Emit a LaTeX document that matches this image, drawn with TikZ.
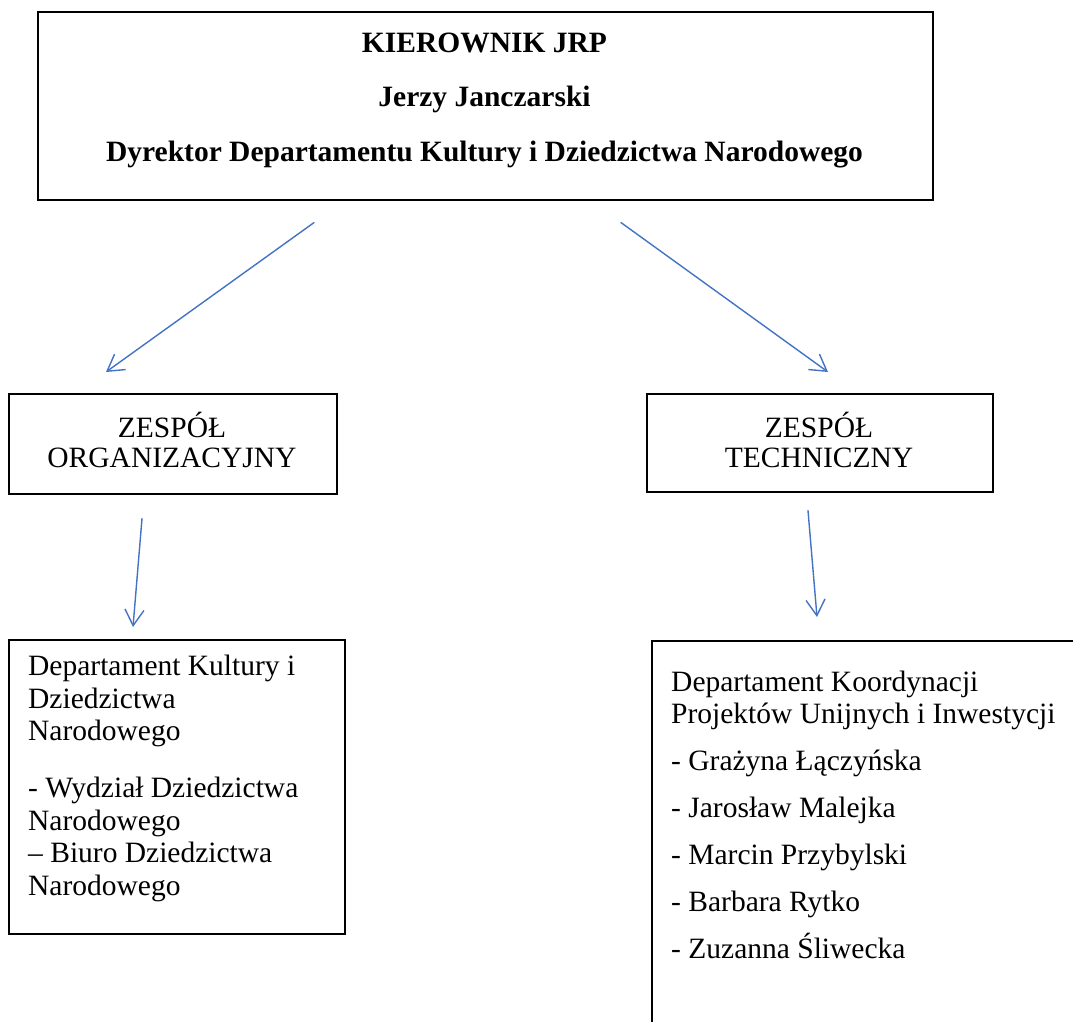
\documentclass[tikz,border=0pt]{standalone}
\usepackage{fontspec}
\setmainfont{Liberation Serif}
\usetikzlibrary{arrows.meta,calc}
\definecolor{arrowblue}{RGB}{68,114,196}
\begin{document}
\begin{tikzpicture}[x=1pt,y=-1pt,
  box/.style={draw=black,line width=1.6pt,inner sep=0pt,anchor=north west},
  txt/.style={inner sep=0pt,font=\fontsize{29.5}{32}\selectfont},
  btxt/.style={inner sep=0pt,font=\fontsize{29.5}{32}\selectfont\bfseries},
  conn/.style={draw=arrowblue,line width=1.4pt,line cap=round,line join=round,-{Straight Barb[length=16pt,width=19pt]}}]
\useasboundingbox (0,0) rectangle (1073,1022);
\fill[white] (0,0) rectangle (1073,1022);
\clip (0,0) rectangle (1073,1022);
% top box
\node[box,minimum width=895pt,minimum height=188pt] (top) at (37,11) {};
\node[btxt,anchor=base] (t1) at (484.5,53) {KIEROWNIK JRP};
\node[btxt,anchor=base] (t2) at (484.5,107) {Jerzy Janczarski};
\node[btxt,anchor=base] (t3) at (484.5,161) {Dyrektor Departamentu Kultury i Dziedzictwa Narodowego};
% middle boxes
\node[box,minimum width=328pt,minimum height=100pt] (zo) at (8,393) {};
\node[txt,anchor=base] (zo1) at (172,437) {ZESPÓŁ};
\node[txt,anchor=base] (zo2) at (172,467) {ORGANIZACYJNY};
\node[box,minimum width=346pt,minimum height=98pt] (zt) at (646,393) {};
\node[txt,anchor=base] (zt1) at (819,437) {ZESPÓŁ};
\node[txt,anchor=base] (zt2) at (819,467) {TECHNICZNY};
% bottom left box
\node[box,minimum width=336pt,minimum height=294pt] (dl) at (8,639) {};
\node[txt,anchor=base west] (l1) at (28,675) {Departament Kultury i};
\node[txt,anchor=base west] (l2) at (28,708) {Dziedzictwa};
\node[txt,anchor=base west] (l3) at (28,740) {Narodowego};
\node[txt,anchor=base west] (l4) at (28,797) {- Wydział Dziedzictwa};
\node[txt,anchor=base west] (l5) at (28,830) {Narodowego};
\node[txt,anchor=base west] (l6) at (28,862) {– Biuro Dziedzictwa};
\node[txt,anchor=base west] (l7) at (28,895) {Narodowego};
% bottom right box (cut by the page edge)
\node[box,minimum width=460pt,minimum height=420pt] (dr) at (651,640) {};
\node[txt,anchor=base west] (r1) at (671,691) {Departament Koordynacji};
\node[txt,anchor=base west] (r2) at (671,723) {Projektów Unijnych i Inwestycji};
\node[txt,anchor=base west] (r3) at (671,770) {- Grażyna Łączyńska};
\node[txt,anchor=base west] (r4) at (671,817) {- Jarosław Malejka};
\node[txt,anchor=base west] (r5) at (671,864) {- Marcin Przybylski};
\node[txt,anchor=base west] (r6) at (671,911) {- Barbara Rytko};
\node[txt,anchor=base west] (r7) at (671,958) {- Zuzanna Śliwecka};
% connector ends
\coordinate (a1s) at ($(top.south west)+(277,22)$);
\coordinate (a1e) at ($(zo.north west)+(98,-21)$);
\coordinate (a2s) at ($(top.south west)+(584,22)$);
\coordinate (a2e) at ($(zt.north west)+(182,-21)$);
\coordinate (a3s) at ($(zo.south west)+(134,24)$);
\coordinate (a3e) at ($(dl.north west)+(125,-12)$);
\coordinate (a4s) at ($(zt.south west)+(162,18)$);
\coordinate (a4e) at ($(dr.north west)+(166,-23)$);
\draw[conn] (a1s) -- (a1e);
\draw[conn] (a2s) -- (a2e);
\draw[conn] (a3s) -- (a3e);
\draw[conn] (a4s) -- (a4e);
\end{tikzpicture}
\end{document}
